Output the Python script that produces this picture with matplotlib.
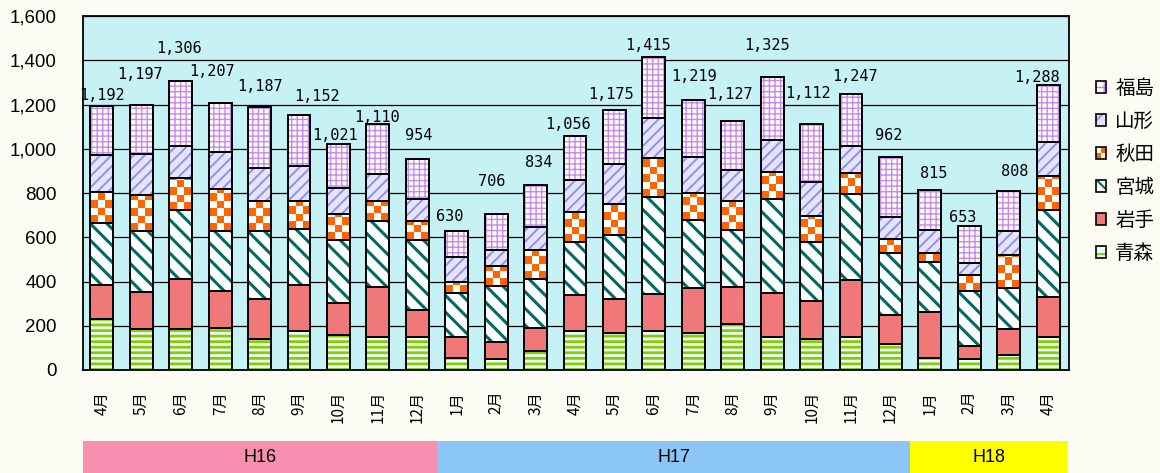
import numpy as np
import matplotlib
matplotlib.use("Agg")
import matplotlib.pyplot as plt
from matplotlib.patches import Rectangle, Patch
from matplotlib.legend_handler import HandlerBase
from matplotlib.transforms import blended_transform_factory

# ---------------- data ----------------
months = ['4月', '5月', '6月', '7月', '8月', '9月', '10月', '11月', '12月',
          '1月', '2月', '3月', '4月', '5月', '6月', '7月', '8月', '9月', '10月', '11月', '12月',
          '1月', '2月', '3月', '4月']
years = ['H16', 'H17', 'H18']
year_months = [9, 12, 4]
prefs = ['青森', '岩手', '宮城', '秋田', '山形', '福島']

aomori = [230, 186, 184, 189, 139, 177, 159, 147, 147, 56, 48, 86, 177, 166, 177, 166, 207, 147, 139, 147, 116, 56, 48, 68, 147]
iwate = [155, 166, 227, 169, 183, 208, 146, 228, 122, 91, 80, 103, 163, 156, 166, 204, 168, 201, 174, 261, 133, 208, 61, 116, 181]
miyagi = [280, 278, 311, 272, 308, 253, 281, 297, 317, 201, 250, 222, 237, 290, 438, 307, 260, 426, 266, 388, 280, 223, 249, 186, 393]
akita = [139, 159, 144, 189, 136, 128, 117, 94, 89, 52, 90, 130, 138, 139, 175, 124, 131, 121, 116, 96, 63, 42, 73, 151, 155]
yamagata = [166, 189, 146, 166, 148, 156, 120, 122, 100, 111, 76, 104, 142, 178, 185, 163, 138, 145, 154, 120, 100, 106, 53, 109, 155]
fukushima = [222, 219, 294, 222, 273, 230, 198, 222, 179, 119, 162, 189, 199, 246, 274, 255, 223, 285, 263, 235, 270, 180, 169, 178, 257]
totals = [1192, 1197, 1306, 1207, 1187, 1152, 1021, 1110, 954, 630, 706, 834, 1056, 1175, 1415,
          1219, 1127, 1325, 1112, 1247, 962, 815, 653, 808, 1288]

series = [aomori, iwate, miyagi, akita, yamagata, fukushima]

# label offsets (pixels) relative to bar top
lab_dx = [0, -1, -2, -8, 0, 18, -3, -1, 1, -7, -4, 3, -7, -3, -6, 1, -3, -5, -4, 4, -2, 4, -7, 6, -11]
lab_dy = [11, 31, 33, 31, 21, 19, 9, 7, 23, 14, 32, 23, 12, 16, 11, 24, 26, 31, 30, 18, 22, 16, 8, 20, 8]

# ---------------- styles ----------------
styles = [
    dict(face='#eafcfc', hatch='---', hcolor='#88cc00', hlw=2.0),    # 青森
    dict(face='#f07878', hatch=None, hcolor=None, hlw=1.0),         # 岩手
    dict(face='#ffffff', hatch='\\\\', hcolor='#006a66', hlw=2.2),  # 宮城
    dict(face='#ffffff', hatch=None, hcolor=None, hlw=1.0),         # 秋田 (checker)
    dict(face='#e4e4ff', hatch='///', hcolor='#9090ee', hlw=1.4),   # 山形
    dict(face='#fffff4', hatch='+++', hcolor='#c888f4', hlw=1.0),   # 福島
]
CHECK_ORANGE = '#ff6600'

bg_fig = '#fcfcf4'
bg_ax = '#c6f2f6'

fig = plt.figure(figsize=(11.6, 4.73), dpi=100, facecolor=bg_fig)
ax = fig.add_axes([83 / 1160, 1 - 370 / 473, (1069 - 83) / 1160, (370 - 16) / 473])
ax.set_facecolor(bg_ax)

x = np.arange(len(months))
width = 0.58
bottom = np.zeros(len(months))
containers = []
for vals, st in zip(series, styles):
    vals = np.array(vals, dtype=float)
    with plt.rc_context({'hatch.linewidth': st['hlw']}):
        if st['hatch']:
            c = ax.bar(x, vals, width, bottom=bottom, color=st['face'], edgecolor=st['hcolor'],
                       hatch=st['hatch'], linewidth=0, zorder=2)
        else:
            c = ax.bar(x, vals, width, bottom=bottom, color=st['face'], linewidth=0, zorder=2)
    ax.bar(x, vals, width, bottom=bottom, facecolor='none', edgecolor='black', linewidth=1.4, zorder=4)
    containers.append(c)
    bottom += vals

# checker pattern for 秋田
cell_h = 34.0
for rect in containers[3]:
    x0, y0 = rect.get_x(), rect.get_y()
    w, h = rect.get_width(), rect.get_height()
    rows = int(np.ceil(h / cell_h))
    idx = np.indices((rows, 3)).sum(0) % 2
    img = np.where(idx[..., None] == 0, np.array([1.0, 0.4, 0.0]), np.array([1.0, 1.0, 1.0]))
    im = ax.imshow(img, extent=(x0, x0 + w, y0, y0 + rows * cell_h), origin='lower',
                   interpolation='nearest', aspect='auto', zorder=3)
    im.set_clip_path(rect)

ax.set_xlim(-0.48, 24.53)
ax.set_ylim(0, 1600)
ax.set_aspect('auto')

# grid
ax.set_yticks(np.arange(0, 1601, 200))
ax.set_yticklabels([f'{v:,}' for v in range(0, 1601, 200)], fontsize=13.5, family='Liberation Sans')
ax.yaxis.grid(True, color='black', linewidth=0.9, zorder=1)
ax.set_axisbelow(True)
ax.tick_params(axis='y', length=0, pad=19)
ax.set_xticks(x)
ax.set_xticklabels(months, rotation=90, fontsize=11, family=['Noto Sans CJK JP', 'DejaVu Sans'], va='top')
ax.tick_params(axis='x', length=0, pad=15)
for sp in ax.spines.values():
    sp.set_color('black')
    sp.set_linewidth(1.3)

# totals labels
for i, t in enumerate(totals):
    ax.annotate(f'{t:,}', (x[i], t), xytext=(lab_dx[i] * 0.72, lab_dy[i] * 0.72),
                textcoords='offset points', ha='center', va='center',
                fontsize=11, family='DejaVu Sans Mono', zorder=6)

# year bands
band_colors = ['#f88fb0', '#8cc6f6', '#ffff00']
trans = blended_transform_factory(ax.transData, fig.transFigure)
start = -0.5
for yr, n, col in zip(years, year_months, band_colors):
    end = start + n
    x_left = max(start, -0.48)
    x_right = min(end, 24.53)
    fig.patches.append(Rectangle((x_left, 0), x_right - x_left, 32 / 473, transform=trans,
                                 facecolor=col, edgecolor='none', zorder=0))
    fig.text((x_left + x_right) / 2, 16 / 473, yr, transform=trans, ha='center', va='center',
             fontsize=13, family='Liberation Sans')
    start = end


# legend
class PatternHandler(HandlerBase):
    def __init__(self, st, checker=False):
        super().__init__()
        self.st = st
        self.checker = checker

    def create_artists(self, legend, orig_handle, xdescent, ydescent, width, height, fontsize, trans):
        arts = []
        x0, y0 = -xdescent, -ydescent
        if self.checker:
            for r in range(2):
                for c in range(2):
                    col = CHECK_ORANGE if (r + c) % 2 == 0 else 'white'
                    arts.append(Rectangle((x0 + c * width / 2, y0 + r * height / 2),
                                          width / 2, height / 2, facecolor=col, edgecolor='none',
                                          transform=trans))
        else:
            st = self.st
            with plt.rc_context({'hatch.linewidth': min(st['hlw'], 1.5)}):
                if st['hatch']:
                    arts.append(Rectangle((x0, y0), width, height, facecolor=st['face'],
                                          edgecolor=st['hcolor'], hatch=st['hatch'][:2],
                                          linewidth=0, transform=trans))
                else:
                    arts.append(Rectangle((x0, y0), width, height, facecolor=st['face'],
                                          linewidth=0, transform=trans))
        arts.append(Rectangle((x0, y0), width, height, facecolor='none',
                              edgecolor='black', linewidth=1.2, transform=trans))
        return arts


handles = []
handler_map = {}
for k, st in enumerate(styles):
    h = Patch(label=prefs[k])
    handler_map[h] = PatternHandler(st, checker=(k == 3))
    handles.append(h)

leg = fig.legend(handles[::-1], prefs[::-1], loc='upper left',
                 bbox_to_anchor=(1086 / 1160, 1 - 68 / 473), frameon=False,
                 prop={'family': ['Noto Sans CJK JP', 'DejaVu Sans'], 'size': 14},
                 handlelength=0.55, handleheight=0.55, handletextpad=0.45,
                 labelspacing=0.62, borderpad=0, handler_map=handler_map)

fig.savefig('out.png', dpi=100, facecolor=bg_fig)
